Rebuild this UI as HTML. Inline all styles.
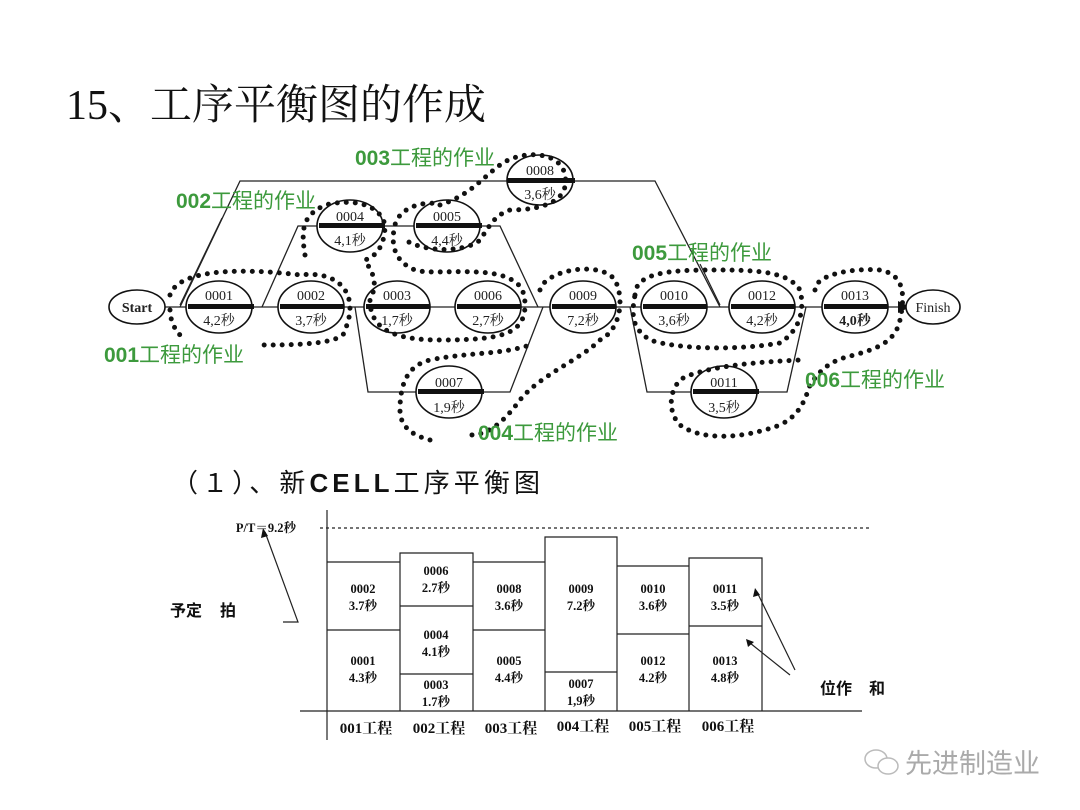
<!DOCTYPE html>
<html><head><meta charset="utf-8"><style>
html,body{margin:0;padding:0;background:#fff;width:1080px;height:810px;overflow:hidden}
svg{display:block}
.n{font-family:"Liberation Serif","Noto Serif CJK SC",serif;font-size:14px;fill:#222;text-anchor:middle}
.g{font-family:"Liberation Sans","Noto Sans CJK SC",sans-serif;font-size:21px;fill:#3d9a3d}
.b{font-family:"Liberation Serif","Noto Serif CJK SC",serif;font-size:12.5px;font-weight:bold;fill:#111;text-anchor:middle}
.dot{fill:none;stroke:#111;stroke-width:5;stroke-linecap:round;stroke-dasharray:0 9}
</style></head><body>
<svg width="1080" height="810" viewBox="0 0 1080 810">
<text x="66" y="119" font-family="Liberation Serif,'Noto Serif CJK SC',serif" font-size="42" fill="#111">15、工序平衡图的作成</text>

<g stroke="#222" stroke-width="1.3" fill="none">
<line x1="165" y1="307" x2="900" y2="307"/>
<path d="M180,307 L240,181 L655,181 L720,307"/>
<path d="M262,307 L298,226 L500,226 L538,307"/>
<path d="M355,307 L368,392 L510,392 L543,307"/>
<path d="M630,307 L647,392 L787,392 L806,307"/>
</g>
<polygon points="898,301 910,307 898,313" fill="#111"/>

<g stroke="#111" stroke-width="1.6" fill="#fff">
<ellipse cx="137" cy="307" rx="28" ry="17"/>
<ellipse cx="933" cy="307" rx="27" ry="17"/>
<ellipse cx="219" cy="307" rx="33" ry="26"/>
<ellipse cx="311" cy="307" rx="33" ry="26"/>
<ellipse cx="397" cy="307" rx="33" ry="26"/>
<ellipse cx="488" cy="307" rx="33" ry="26"/>
<ellipse cx="583" cy="307" rx="33" ry="26"/>
<ellipse cx="674" cy="307" rx="33" ry="26"/>
<ellipse cx="762" cy="307" rx="33" ry="26"/>
<ellipse cx="855" cy="307" rx="33" ry="26"/>
<ellipse cx="350" cy="226" rx="33" ry="26"/>
<ellipse cx="447" cy="226" rx="33" ry="26"/>
<ellipse cx="540" cy="180" rx="33" ry="25"/>
<ellipse cx="449" cy="392" rx="33" ry="26"/>
<ellipse cx="724" cy="392" rx="33" ry="26"/>
</g>
<g fill="#111">
<rect x="188" y="304" width="66" height="5"/><rect x="280" y="304" width="64" height="5"/>
<rect x="366" y="304" width="64" height="5"/><rect x="457" y="304" width="64" height="5"/>
<rect x="552" y="304" width="64" height="5"/><rect x="643" y="304" width="64" height="5"/>
<rect x="731" y="304" width="64" height="5"/><rect x="824" y="304" width="64" height="5"/>
<rect x="319" y="223" width="66" height="5"/><rect x="416" y="223" width="66" height="5"/>
<rect x="507" y="178" width="68" height="5"/><rect x="418" y="389" width="66" height="5"/>
<rect x="693" y="389" width="66" height="5"/>
</g>
<text class="n" x="137" y="312" font-weight="bold">Start</text>
<text class="n" x="933" y="312">Finish</text>
<g class="n">
<text x="219" y="300">0001</text><text x="219" y="325">4,2秒</text>
<text x="311" y="300">0002</text><text x="311" y="325">3,7秒</text>
<text x="397" y="300">0003</text><text x="397" y="325">1,7秒</text>
<text x="488" y="300">0006</text><text x="488" y="325">2,7秒</text>
<text x="583" y="300">0009</text><text x="583" y="325">7,2秒</text>
<text x="674" y="300">0010</text><text x="674" y="325">3,6秒</text>
<text x="762" y="300">0012</text><text x="762" y="325">4,2秒</text>
<text x="855" y="300">0013</text><text x="855" y="325" font-weight="bold">4,0秒</text>
<text x="350" y="221">0004</text><text x="350" y="245">4,1秒</text>
<text x="447" y="221">0005</text><text x="447" y="245">4,4秒</text>
<text x="540" y="175">0008</text><text x="540" y="199">3,6秒</text>
<text x="449" y="387">0007</text><text x="449" y="412">1,9秒</text>
<text x="724" y="387">0011</text><text x="724" y="412">3,5秒</text>
</g>

<path class="dot" d="M170,295 C180,265 260,270 300,275 C340,270 360,295 345,330 C345,345 290,345 260,345 M170,310 C170,320 175,330 180,335"/>
<path class="dot" d="M305,255 C300,225 305,215 325,205 C355,198 380,205 385,225 C385,240 380,255 365,260 C370,270 380,280 370,300 C370,330 395,340 440,340 C500,340 525,335 525,305 C525,285 515,280 500,275 C470,268 430,275 415,270 C395,262 390,245 395,225 C400,205 430,200 440,205"/>
<path class="dot" d="M440,205 C470,195 480,180 500,165 C520,150 560,150 565,175 C570,200 545,210 510,210 C495,215 490,225 480,240 C470,250 430,255 405,240"/>
<path class="dot" d="M540,290 C545,270 600,260 615,280 C625,300 620,330 600,340 C580,360 540,375 520,400 C505,420 490,435 470,435 M430,440 C410,435 400,425 400,410 C400,380 410,365 430,360 C470,352 500,355 530,345"/>
<path class="dot" d="M635,295 C635,270 680,270 720,270 C770,270 790,275 800,290 C805,310 800,330 780,343 C740,350 680,350 650,340 C635,330 630,320 635,295"/>
<path class="dot" d="M815,290 C815,275 850,268 880,270 C905,275 905,295 900,320 C895,345 870,350 855,355 C830,360 820,370 810,385 C805,400 800,415 780,425 C740,440 700,440 680,425 C665,410 670,380 690,375 C720,365 760,362 800,360"/>

<g class="g">
<text x="355" y="165"><tspan font-weight="bold">003</tspan>工程的作业</text>
<text x="176" y="208"><tspan font-weight="bold">002</tspan>工程的作业</text>
<text x="632" y="260"><tspan font-weight="bold">005</tspan>工程的作业</text>
<text x="104" y="362"><tspan font-weight="bold">001</tspan>工程的作业</text>
<text x="805" y="387"><tspan font-weight="bold">006</tspan>工程的作业</text>
<text x="478" y="440"><tspan font-weight="bold">004</tspan>工程的作业</text>
</g>
<line x1="222" y1="218" x2="180" y2="305" stroke="#222" stroke-width="1.2"/>
<line x1="700" y1="264" x2="720" y2="305" stroke="#222" stroke-width="1.2"/>

<text x="172" y="492" font-family="Liberation Sans,'Noto Sans CJK SC',sans-serif" font-size="26" fill="#111" textLength="368">（１）、新<tspan font-weight="bold">CELL</tspan>工序平衡图</text>

<g stroke="#222" stroke-width="1.2" fill="none">
<line x1="327" y1="510" x2="327" y2="740"/>
<line x1="300" y1="711" x2="862" y2="711"/>
<line x1="320" y1="528" x2="872" y2="528" stroke-dasharray="3 3"/>
<path d="M327,562 H400 M327,630 H400 M400,711 V553 H473 V711 M400,606 H473 M400,674 H473 M473,562 H545 M473,630 H545 M545,711 V537 H617 V711 M545,672 H617 M617,566 H689 M617,634 H689 M689,711 V558 H762 V711 M689,626 H762"/>
<path d="M283,622 H298 L265,532"/>
<line x1="795" y1="670" x2="757" y2="592"/>
<line x1="790" y1="675" x2="750" y2="643"/>
</g>
<polygon points="263,528 261,538 268,536" fill="#111"/>
<polygon points="755,588 753,597 760,595" fill="#111"/>
<polygon points="746,639 748,647 754,642" fill="#111"/>
<text class="b" x="296" y="532" style="text-anchor:end">P/T＝9.2秒</text>
<g class="b">
<text x="363" y="593">0002</text><text x="363" y="610">3.7秒</text>
<text x="363" y="665">0001</text><text x="363" y="682">4.3秒</text>
<text x="436" y="575">0006</text><text x="436" y="592">2.7秒</text>
<text x="436" y="639">0004</text><text x="436" y="656">4.1秒</text>
<text x="436" y="689">0003</text><text x="436" y="706">1.7秒</text>
<text x="509" y="593">0008</text><text x="509" y="610">3.6秒</text>
<text x="509" y="665">0005</text><text x="509" y="682">4.4秒</text>
<text x="581" y="593">0009</text><text x="581" y="610">7.2秒</text>
<text x="581" y="688">0007</text><text x="581" y="705">1,9秒</text>
<text x="653" y="593">0010</text><text x="653" y="610">3.6秒</text>
<text x="653" y="665">0012</text><text x="653" y="682">4.2秒</text>
<text x="725" y="593">0011</text><text x="725" y="610">3.5秒</text>
<text x="725" y="665">0013</text><text x="725" y="682">4.8秒</text>
</g>
<g class="b" style="font-size:15px">
<text x="366" y="733">001工程</text><text x="439" y="733">002工程</text><text x="511" y="733">003工程</text>
<text x="583" y="731">004工程</text><text x="655" y="731">005工程</text><text x="728" y="731">006工程</text>
</g>
<text x="170" y="616" font-family="Liberation Sans,'Noto Sans CJK SC',sans-serif" font-size="16" font-weight="bold" fill="#111">予定<tspan x="220">拍</tspan></text>
<text x="820" y="694" font-family="Liberation Sans,'Noto Sans CJK SC',sans-serif" font-size="16" font-weight="bold" fill="#111">位作<tspan x="869">和</tspan></text>

<g stroke="#bbb" stroke-width="1.5" fill="#fff">
<ellipse cx="876" cy="759" rx="11" ry="9"/>
<ellipse cx="888" cy="766" rx="10" ry="8"/>
</g>
<text x="905" y="773" font-family="'Noto Sans CJK SC',sans-serif" font-size="27" fill="#aaa">先进制造业</text>
</svg>
</body></html>
